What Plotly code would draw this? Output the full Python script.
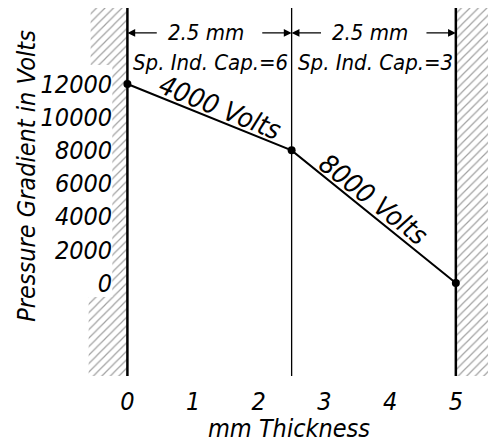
'''Voltage gradient across two dielectric layers'''
# %%
import plotly.graph_objects as go

# %%
# data
thickness_mm: list[float] = [0, 2.5, 5]          # electrode, interface, electrode
gradient_v: list[float] = [12000, 8000, 0]
layer_width_label: list[str] = ["2.5 mm", "2.5 mm"]
layer_cap_label: list[str] = ["Sp. Ind. Cap.=6", "Sp. Ind. Cap.=3"]
layer_drop_label: list[str] = ["4000 Volts", "8000 Volts"]
x_tick_vals: list[int] = [0, 1, 2, 3, 4, 5]
y_tick_vals: list[int] = [0, 2000, 4000, 6000, 8000, 10000, 12000]

# %%
X_RANGE = [-0.6, 5.52]
Y_RANGE = [-5609, 16586]
FONT = "DejaVu Sans Condensed"
DIM_Y = 15080      # height of the dimension arrows
CAP_Y = 13270      # height of the capacity labels

hatch = dict(shape="/", size=6, solidity=0.2, fgcolor="#444", bgcolor="white")

fig: go.Figure = go.Figure()

# hatched electrodes (left one narrowed where tick labels sit)
fig.add_trace(go.Scatter(
    x=[-0.56, 0, 0, -0.59, -0.59, -0.23, -0.23, -0.56, -0.56],
    y=[Y_RANGE[1], Y_RANGE[1], Y_RANGE[0], Y_RANGE[0], -845, -845, 13150, 13150, Y_RANGE[1]],
    mode="none", fill="toself", fillpattern=hatch, hoverinfo="skip"))
fig.add_trace(go.Scatter(
    x=[5, X_RANGE[1], X_RANGE[1], 5, 5],
    y=[Y_RANGE[1], Y_RANGE[1], Y_RANGE[0], Y_RANGE[0], Y_RANGE[1]],
    mode="none", fill="toself", fillpattern=hatch, hoverinfo="skip"))

# walls and interface
for xv, w in [(thickness_mm[0], 2.5), (thickness_mm[1], 1.3), (thickness_mm[2], 2.5)]:
    fig.add_shape(type="line", x0=xv, x1=xv, y0=Y_RANGE[0], y1=Y_RANGE[1],
                  line=dict(color="black", width=w))

# gradient line
fig.add_trace(go.Scatter(x=thickness_mm, y=gradient_v, mode="lines+markers",
                         line=dict(color="black", width=2),
                         marker=dict(color="black", size=8)))

# dimension arrows + labels
tf = dict(family=FONT, size=22, color="black", style="italic")
for i in range(2):
    x0, x1 = thickness_mm[i], thickness_mm[i + 1]
    xm = (x0 + x1) / 2
    for tip, tail in [(x0, xm - 0.78), (x1, xm + 0.78)]:
        fig.add_annotation(x=tip, y=DIM_Y, ax=tail, ay=DIM_Y, axref="x", ayref="y",
                           text="", showarrow=True, arrowhead=2, arrowsize=1.2,
                           arrowwidth=1.3, arrowcolor="black")
    fig.add_annotation(x=xm - 0.05, y=DIM_Y, text=layer_width_label[i], showarrow=False, font=tf)
    fig.add_annotation(x=xm + 0.02, y=CAP_Y, text=layer_cap_label[i], showarrow=False, font=tf)

# voltage drop labels along each segment
seg_shift = [(11, 10), (0, 17)]
seg_angle = [22, 38]
for i in range(2):
    fig.add_annotation(x=(thickness_mm[i] + thickness_mm[i + 1]) / 2,
                       y=(gradient_v[i] + gradient_v[i + 1]) / 2,
                       text=layer_drop_label[i], showarrow=False, textangle=seg_angle[i],
                       xshift=seg_shift[i][0], yshift=seg_shift[i][1],
                       font=dict(family=FONT, size=27, color="black", style="italic"))

# y title as a free annotation (sits higher than the plot centre in the drawing)
fig.add_annotation(x=-0.155, y=0.543, xref="paper", yref="paper", xanchor="center",
                   yanchor="middle", text="Pressure Gradient in Volts",
                   textangle=-90, showarrow=False,
                   font=dict(family=FONT, size=25, color="black", style="italic"))

# %%
# page body adds 8px around the figure, so the figure is 8px smaller
fig.update_layout(
    width=488, height=435,
    margin=dict(l=79.5, r=6, t=0, b=67),
    paper_bgcolor="white", plot_bgcolor="white",
    showlegend=False,
    font=dict(family=FONT, color="black", style="italic"),
    xaxis=dict(range=X_RANGE, tickvals=x_tick_vals, showgrid=False, zeroline=False,
               showline=False, ticks="", ticklabelstandoff=8,
               tickfont=dict(size=25, style="italic"),
               title=dict(text="mm Thickness", font=dict(size=25, style="italic"), standoff=0)),
    yaxis=dict(range=Y_RANGE, tickvals=y_tick_vals, tickformat="d", showgrid=False,
               zeroline=False, showline=False, ticks="", anchor="free", position=0.06,
               tickfont=dict(size=25, style="italic")),
)

fig.write_html("out.html")
